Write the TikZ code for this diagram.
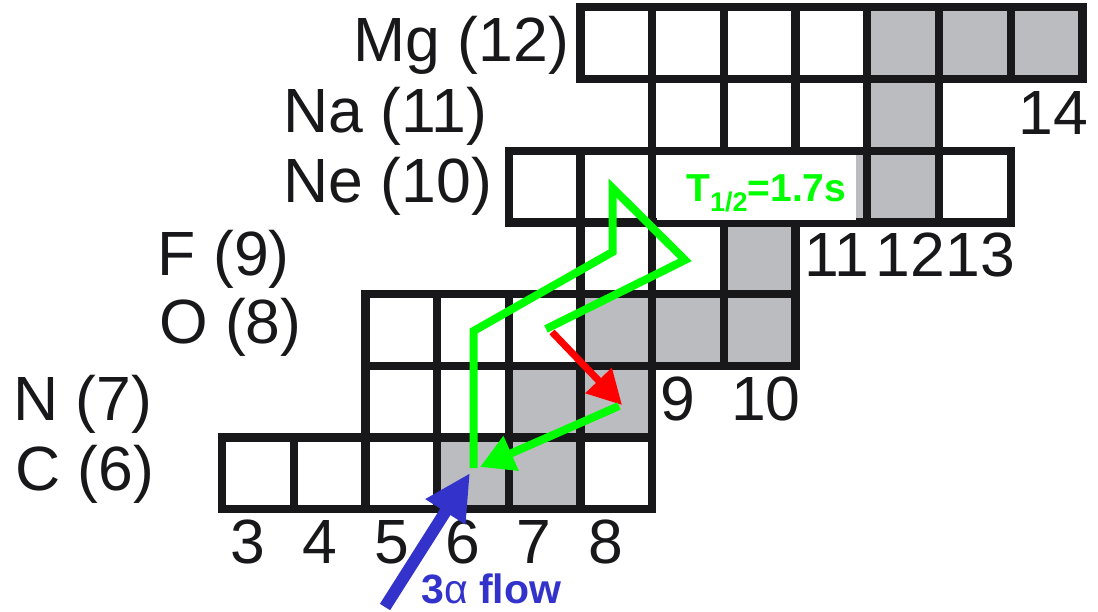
\documentclass[tikz,border=0pt]{standalone}
\usepackage{fontspec}
\setmainfont{Liberation Sans}
\usetikzlibrary{arrows.meta}
\definecolor{cellgray}{RGB}{187,188,192}
\definecolor{ink}{RGB}{24,24,26}
\definecolor{flowblue}{RGB}{51,51,204}
\definecolor{pathgreen}{RGB}{0,255,0}
\definecolor{decayred}{RGB}{255,0,0}
\begin{document}
\begin{tikzpicture}[x=1pt,y=-1pt,
  cellline/.style={draw=ink,line width=8.3pt},
  big/.style={font=\fontsize{62.5}{70}\selectfont,text=ink,inner sep=0pt},
  rowlabel/.style={big,anchor=base west},
  numlabel/.style={big,anchor=base,text depth=0pt},
  greenline/.style={draw=pathgreen,line width=8pt,line join=miter},
]
\useasboundingbox (0,0) rectangle (1098,612);
\fill[white] (0,0) rectangle (1098,612);
% stable (gray) cells
\foreach \z/\n in {6/6,6/7,7/7,7/8,8/8,8/9,8/10,9/10,10/10,10/11,10/12,11/12,12/12,12/13,12/14} {
  \pgfmathsetmacro\xl{222+71.7*(\n-3)}
  \pgfmathsetmacro\yt{7.3+71.7*(12-\z)}
  \fill[cellgray] (\xl,\yt) rectangle ++(71.7,71.7);
}
% cell outlines
\foreach \z/\a/\b in {6/3/8, 7/5/8, 8/5/10, 9/8/10, 10/7/13, 11/9/12, 12/8/14} {
  \foreach \n in {\a,...,\b} {
    \pgfmathsetmacro\xl{222+71.7*(\n-3)}
    \pgfmathsetmacro\yt{7.3+71.7*(12-\z)}
    \draw[cellline] (\xl,\yt) rectangle ++(71.7,71.7);
  }
}
% row labels
\node[rowlabel] (mg) at (353.4,62) {Mg (12)};
\node[rowlabel] (na) at (283.3,133) {Na (11)};
\node[rowlabel] (ne) at (283.3,203) {Ne (10)};
\node[rowlabel] (f) at (157.5,276) {F (9)};
\node[rowlabel] (o) at (159,344) {O (8)};
\node[rowlabel] (n) at (13.3,420) {N (7)};
\node[rowlabel] (c) at (15,490) {C (6)};
% neutron numbers
\node[numlabel] (n3) at (248,563) {3};
\node[numlabel] (n4) at (319.5,563) {4};
\node[numlabel] (n5) at (391.5,563) {5};
\node[numlabel] (n6) at (462.5,563) {6};
\node[numlabel] (n7) at (534,563) {7};
\node[numlabel] (n8) at (605.5,563) {8};
\node[numlabel] (n9) at (678,420) {9};
\node[numlabel] (n10) at (766,420) {10};
\node[numlabel] (n11) at (837,277) {11};
\node[numlabel] (n12) at (910,277) {12};
\node[numlabel] (n13) at (980,277) {13};
\node[numlabel] (n14) at (1053,135) {14};
% half-life label
\fill[white] (657,155) rectangle (856,220);
\node[anchor=base west,inner sep=0pt,text=pathgreen,font=\bfseries\fontsize{39}{42}\selectfont] (thalf) at (686,202) {T\raisebox{-10pt}{\fontsize{27}{29}\selectfont 1/2}=1.7s};
% flow label
\node[anchor=base west,inner sep=0pt,text=flowblue,font=\bfseries\fontsize{41}{44}\selectfont] (flow) at (421,603) {3{\mdseries α} flow};
% connectors
\coordinate (g0) at (546,329);
\coordinate (g1) at (685,260);
\coordinate (g2) at (612.5,188);
\coordinate (g3) at (612.5,252);
\coordinate (g4) at (473.5,331);
\coordinate (g5) at (473.5,468);
\coordinate (rs) at (552,332);
\coordinate (rt) at (622,405);
\coordinate (ga) at (619,406);
\coordinate (gb) at (480,467);
\coordinate (bs) at (385,607);
\coordinate (bt) at (470,473);
\draw[decayred,line width=7pt,-{Triangle[length=34pt,width=35pt]}] (rs) -- (rt);
\draw[greenline] (g0) -- (g1) -- (g2) -- (g3) -- (g4) -- (g5);
\draw[pathgreen,line width=8pt,-{Triangle[length=34pt,width=36pt]}] (ga) -- (gb);
\draw[flowblue,line width=12pt,-{Triangle[length=46pt,width=44pt]}] (bs) -- (bt);
\end{tikzpicture}
\end{document}
